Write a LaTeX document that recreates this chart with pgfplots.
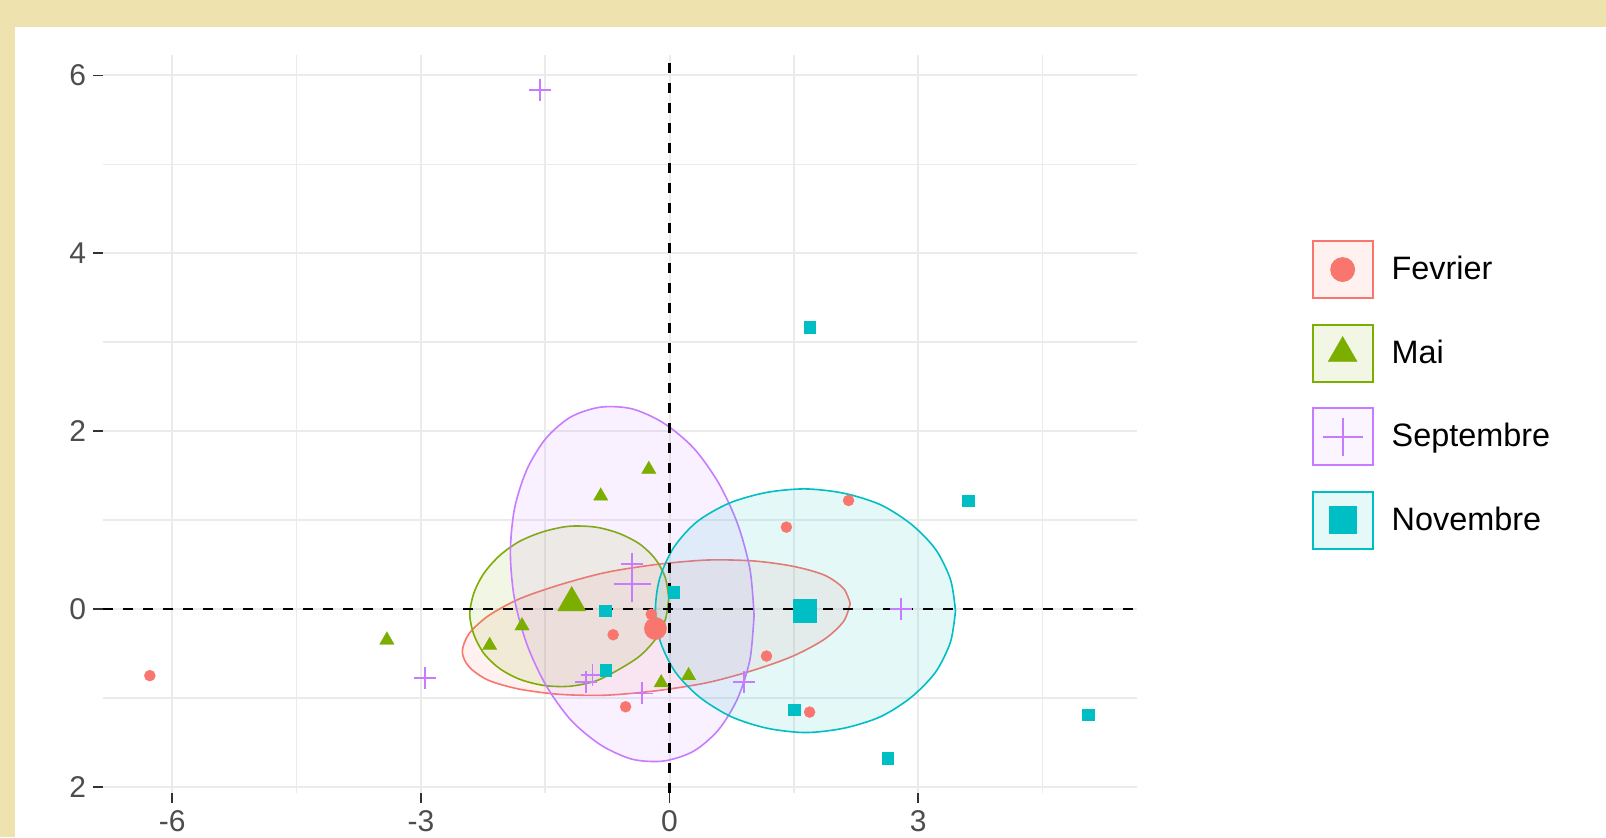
\documentclass[border=0pt]{standalone}
\usepackage{pgfplots}
\pgfplotsset{compat=1.18}
\usepackage{fontspec}
\setmainfont{Liberation Sans}
\definecolor{cF}{HTML}{F8766D}
\definecolor{cM}{HTML}{7CAE00}
\definecolor{cS}{HTML}{C77CFF}
\definecolor{cN}{HTML}{00BFC4}
\definecolor{beige}{RGB}{238,226,175}
\definecolor{gridc}{HTML}{EBEBEB}
\definecolor{tickc}{HTML}{333333}
\definecolor{labc}{HTML}{4D4D4D}
\begin{document}
\begin{tikzpicture}[x=1pt,y=1pt]
\useasboundingbox (0,0) rectangle (803,418.5);
\clip (0,0) rectangle (803,418.5);
\fill[beige] (0,0) rectangle (803,418.5);
\fill[white] (7.5,0) rectangle (803,405);
\begin{axis}[
  at={(51.5pt,22pt)}, anchor=south west,
  scale only axis, width=517pt, height=369pt,
  xmin=-6.835, xmax=5.64, ymin=-2.07, ymax=6.23,
  axis line style={draw=none},
  xtick={-6,-3,0,3}, xticklabels={-6,-3,0,3},
  ytick={-2,0,2,4,6}, yticklabels={2,0,2,4,6},
  minor xtick={-4.5,-1.5,1.5,4.5}, minor ytick={-1,1,3,5},
  grid=both,
  major grid style={draw=gridc, line width=1pt},
  minor grid style={draw=gridc, line width=0.8pt},
  tick align=outside, major tick length=5pt, minor tick length=0pt,
  tick pos=left,
  tick style={draw=tickc, line width=0.9pt},
  ticklabel style={font=\fontsize{15}{18}\selectfont, text=labc},
  xticklabel style={yshift=-0.3pt},
  legend style={at={(axis description cs:1.1689,0.7493)}, anchor=north west,
    draw=none, fill=none, inner sep=0pt, outer sep=0pt,
    row sep=12.3pt, column sep=0pt,
    font=\fontsize{16.2}{19}\selectfont,
    nodes={inner xsep=9pt, inner ysep=0pt}},
  legend cell align=left,
]
% ellipses
\addplot[draw=cF, line width=0.8pt, fill=cF, fill opacity=0.1, smooth, forget plot] coordinates {
(2.18,0.06) (2.10,0.23) (1.87,0.38) (1.49,0.48) (1.01,0.54) (0.45,0.55) (-0.16,0.50) (-0.77,0.41) (-1.33,0.27) (-1.82,0.11) (-2.19,-0.08) (-2.42,-0.28) (-2.50,-0.48) (-2.42,-0.65) (-2.19,-0.80) (-1.82,-0.90) (-1.33,-0.96) (-0.77,-0.97) (-0.16,-0.92) (0.45,-0.83) (1.01,-0.69) (1.49,-0.53) (1.87,-0.34) (2.10,-0.14) (2.18,0.06)};
\addplot[draw=cM, line width=0.8pt, fill=cM, fill opacity=0.1, smooth, forget plot] coordinates {
(-0.01,0.12) (-0.05,0.35) (-0.17,0.56) (-0.36,0.73) (-0.61,0.85) (-0.89,0.92) (-1.21,0.93) (-1.52,0.87) (-1.81,0.76) (-2.05,0.60) (-2.24,0.40) (-2.36,0.18) (-2.41,-0.06) (-2.36,-0.29) (-2.24,-0.50) (-2.05,-0.67) (-1.81,-0.79) (-1.52,-0.86) (-1.21,-0.87) (-0.89,-0.81) (-0.61,-0.68) (-0.36,-0.53) (-0.17,-0.34) (-0.05,-0.12) (-0.01,0.12)};
\addplot[draw=cS, line width=0.8pt, fill=cS, fill opacity=0.1, smooth, forget plot] coordinates {
(1.02,-0.07) (0.97,0.45) (0.82,0.96) (0.59,1.42) (0.29,1.81) (-0.07,2.09) (-0.45,2.25) (-0.83,2.27) (-1.19,2.16) (-1.49,1.92) (-1.72,1.57) (-1.87,1.13) (-1.92,0.63) (-1.87,0.11) (-1.72,-0.40) (-1.49,-0.86) (-1.19,-1.25) (-0.83,-1.53) (-0.45,-1.69) (-0.07,-1.71) (0.29,-1.60) (0.59,-1.36) (0.82,-1.01) (0.97,-0.57) (1.02,-0.07)};
\addplot[draw=cN, line width=0.8pt, fill=cN, fill opacity=0.1, smooth, forget plot] coordinates {
(3.45,-0.02) (3.39,0.33) (3.21,0.67) (2.92,0.95) (2.55,1.17) (2.11,1.30) (1.64,1.35) (1.17,1.31) (0.72,1.19) (0.33,0.98) (0.05,0.69) (-0.12,0.34) (-0.17,-0.02) (-0.11,-0.37) (0.07,-0.71) (0.36,-0.99) (0.74,-1.21) (1.17,-1.34) (1.64,-1.39) (2.11,-1.34) (2.55,-1.21) (2.92,-0.99) (3.21,-0.71) (3.39,-0.37) (3.45,-0.02)};
% points
\addplot[only marks, mark=*, mark size=2.8pt, mark options={fill=cF, draw=cF, line width=0.1pt}, forget plot] coordinates {
(-6.27,-0.75) (-0.68,-0.29) (-0.53,-1.10) (1.41,0.92) (2.16,1.22) (1.17,-0.53) (1.69,-1.16) (-0.22,-0.06)};
\addplot[only marks, mark=*, mark size=5.6pt, mark options={fill=cF, draw=cF, line width=0.1pt}, forget plot] coordinates {(-0.17,-0.22)};
\addplot[only marks, mark=triangle*, mark size=4.2pt, mark options={fill=cM, draw=cM, line width=0.1pt}, forget plot] coordinates {
(-3.41,-0.35) (-2.17,-0.41) (-1.78,-0.19) (-0.83,1.27) (-0.25,1.57) (-0.10,-0.83) (0.23,-0.75)};
\addplot[only marks, mark=triangle*, mark size=8.2pt, mark options={fill=cM, draw=cM, line width=0.1pt}, forget plot] coordinates {(-1.18,0.07)};
\addplot[only marks, mark=+, mark size=5.5pt, mark options={draw=cS, line width=0.9pt}, forget plot] coordinates {
(-1.56,5.84) (-2.95,-0.78) (-1.01,-0.82) (-0.93,-0.74) (-0.33,-0.95) (-0.45,0.51) (0.90,-0.82) (2.79,0.00)};
\addplot[only marks, mark=+, mark size=9.2pt, mark options={draw=cS, line width=0.9pt}, forget plot] coordinates {(-0.45,0.28)};
\addplot[only marks, mark=square*, mark size=2.9pt, mark options={fill=cN, draw=cN, line width=0.1pt}, forget plot] coordinates {
(1.69,3.17) (3.60,1.22) (5.05,-1.19) (2.63,-1.68) (1.50,-1.13) (-0.78,-0.02) (-0.77,-0.69) (0.05,0.19)};
\addplot[only marks, mark=square*, mark size=5.7pt, mark options={fill=cN, draw=cN, line width=0.1pt}, forget plot] coordinates {(1.63,-0.02)};
% reference lines
\addplot[black, line width=1.1pt, dash pattern=on 5pt off 5pt, forget plot] coordinates {(-6.835,0) (5.64,0)};
\addplot[black, line width=1.1pt, dash pattern=on 5pt off 5pt, forget plot] coordinates {(0,-2.07) (0,6.23)};
% legend
\addlegendimage{legend image code/.code={
  \draw[draw=cF, fill=cF!10, line width=1pt] (0pt,-14.25pt) rectangle (30pt,14.25pt);
  \fill[cF] (15pt,0pt) circle (6pt);}}
\addlegendentry{Fevrier}
\addlegendimage{legend image code/.code={
  \draw[draw=cM, fill=cM!10, line width=1pt] (0pt,-14.25pt) rectangle (30pt,14.25pt);
  \path[mark=triangle*, mark size=8.4pt, mark options={fill=cM, draw=cM, line width=0.1pt}] plot coordinates {(15pt,0pt)};}}
\addlegendentry{Mai}
\addlegendimage{legend image code/.code={
  \draw[draw=cS, fill=cS!8, line width=1pt] (0pt,-14.25pt) rectangle (30pt,14.25pt);
  \draw[cS, line width=0.9pt] (5pt,0pt) -- (25pt,0pt) (15pt,-9.5pt) -- (15pt,9.5pt);}}
\addlegendentry{Septembre}
\addlegendimage{legend image code/.code={
  \draw[draw=cN, fill=cN!10, line width=1pt] (0pt,-14.25pt) rectangle (30pt,14.25pt);
  \fill[cN] (8.25pt,-6.75pt) rectangle (21.75pt,6.75pt);}}
\addlegendentry{Novembre}
\end{axis}
\end{tikzpicture}
\end{document}
